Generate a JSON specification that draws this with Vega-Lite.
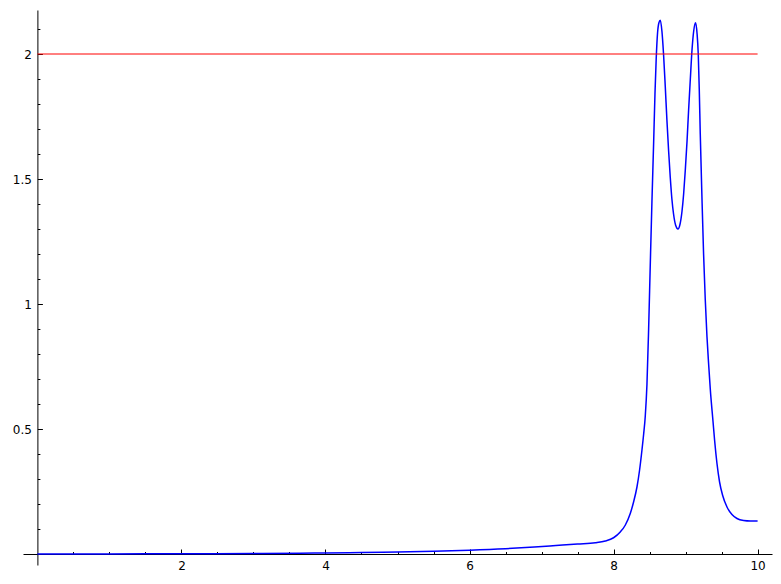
{
  "$schema": "https://vega.github.io/schema/vega-lite/v6.json",
  "width": 749,
  "height": 555,
  "autosize": {"type": "none"},
  "padding": {"left": 23, "top": 10, "right": 9, "bottom": 19},
  "background": "white",
  "config": {
    "view": {"stroke": null},
    "axis": {
      "domainColor": "black",
      "domainWidth": 1,
      "tickColor": "black",
      "tickWidth": 1,
      "labelColor": "black",
      "labelFont": "DejaVu Sans",
      "labelFontSize": 12,
      "labelOverlap": false,
      "labelBound": false,
      "labelFlush": false,
      "grid": false,
      "title": null
    }
  },
  "resolve": {"axis": {"x": "independent", "y": "independent"}},
  "layer": [
    {
      "data": {"values": [
        {"x": 0, "y": 0},
        {"x": 1, "y": 0.0003},
        {"x": 2, "y": 0.001},
        {"x": 3, "y": 0.002},
        {"x": 3.65, "y": 0.003},
        {"x": 4, "y": 0.004},
        {"x": 4.5, "y": 0.006},
        {"x": 5, "y": 0.008},
        {"x": 5.5, "y": 0.011},
        {"x": 6, "y": 0.015},
        {"x": 6.5, "y": 0.021},
        {"x": 6.9, "y": 0.028},
        {"x": 7.2, "y": 0.034},
        {"x": 7.5, "y": 0.04},
        {"x": 7.746, "y": 0.045},
        {"x": 7.885, "y": 0.052},
        {"x": 8.0, "y": 0.065},
        {"x": 8.093, "y": 0.088},
        {"x": 8.162, "y": 0.115},
        {"x": 8.232, "y": 0.162},
        {"x": 8.278, "y": 0.208},
        {"x": 8.325, "y": 0.268},
        {"x": 8.361, "y": 0.335},
        {"x": 8.394, "y": 0.415},
        {"x": 8.418, "y": 0.48},
        {"x": 8.44, "y": 0.55},
        {"x": 8.464, "y": 0.68},
        {"x": 8.487, "y": 0.9},
        {"x": 8.51, "y": 1.16},
        {"x": 8.533, "y": 1.41},
        {"x": 8.556, "y": 1.64},
        {"x": 8.575, "y": 1.84},
        {"x": 8.592, "y": 1.98},
        {"x": 8.611, "y": 2.085},
        {"x": 8.63, "y": 2.125},
        {"x": 8.649, "y": 2.135},
        {"x": 8.672, "y": 2.09},
        {"x": 8.694, "y": 2.0},
        {"x": 8.718, "y": 1.87},
        {"x": 8.741, "y": 1.735},
        {"x": 8.765, "y": 1.61},
        {"x": 8.787, "y": 1.508},
        {"x": 8.81, "y": 1.42},
        {"x": 8.833, "y": 1.36},
        {"x": 8.862, "y": 1.315},
        {"x": 8.894, "y": 1.3},
        {"x": 8.922, "y": 1.318},
        {"x": 8.95, "y": 1.37},
        {"x": 8.973, "y": 1.44},
        {"x": 8.996, "y": 1.535},
        {"x": 9.02, "y": 1.65},
        {"x": 9.042, "y": 1.775},
        {"x": 9.066, "y": 1.9},
        {"x": 9.089, "y": 2.015},
        {"x": 9.112, "y": 2.09},
        {"x": 9.139, "y": 2.125},
        {"x": 9.16, "y": 2.08},
        {"x": 9.176, "y": 2.0},
        {"x": 9.19, "y": 1.86},
        {"x": 9.204, "y": 1.68},
        {"x": 9.227, "y": 1.43},
        {"x": 9.25, "y": 1.2},
        {"x": 9.273, "y": 1.02},
        {"x": 9.297, "y": 0.87},
        {"x": 9.32, "y": 0.76},
        {"x": 9.343, "y": 0.66},
        {"x": 9.381, "y": 0.53},
        {"x": 9.403, "y": 0.455},
        {"x": 9.436, "y": 0.362},
        {"x": 9.472, "y": 0.288},
        {"x": 9.514, "y": 0.235},
        {"x": 9.575, "y": 0.188},
        {"x": 9.644, "y": 0.158},
        {"x": 9.714, "y": 0.142},
        {"x": 9.806, "y": 0.134},
        {"x": 9.9, "y": 0.132},
        {"x": 10, "y": 0.132}
      ]},
      "mark": {"type": "line", "color": "#0000ff", "strokeWidth": 1.5, "interpolate": "monotone"},
      "encoding": {
        "x": {
          "field": "x", "type": "quantitative",
          "scale": {"domain": [-0.2, 10.2], "nice": false, "zero": false},
          "axis": {
            "orient": "bottom",
            "offset": -11,
            "values": [2, 4, 6, 8, 10],
            "format": "d",
            "tickSize": -5,
            "labelPadding": 11
          }
        },
        "y": {
          "field": "y", "type": "quantitative",
          "scale": {"domain": [-0.044, 2.176], "nice": false, "zero": false},
          "axis": {
            "orient": "left",
            "offset": -14.4,
            "values": [0.5, 1, 1.5, 2],
            "format": "~g",
            "tickSize": -5,
            "labelPadding": 11
          }
        }
      }
    },
    {
      "data": {"values": [{"x": 0, "x2": 10, "y": 2}]},
      "mark": {"type": "rule", "color": "#ff0000", "strokeWidth": 1},
      "encoding": {
        "x": {
          "field": "x", "type": "quantitative",
          "axis": {
            "orient": "bottom",
            "offset": -11,
            "domain": false,
            "labels": false,
            "values": [0.5, 1, 1.5, 2.5, 3, 3.5, 4.5, 5, 5.5, 6.5, 7, 7.5, 8.5, 9, 9.5],
            "tickSize": -2.5
          }
        },
        "x2": {"field": "x2"},
        "y": {
          "field": "y", "type": "quantitative",
          "axis": {
            "orient": "left",
            "offset": -14.4,
            "domain": false,
            "labels": false,
            "values": [0.1, 0.2, 0.3, 0.4, 0.6, 0.7, 0.8, 0.9, 1.1, 1.2, 1.3, 1.4, 1.6, 1.7, 1.8, 1.9, 2.1],
            "tickSize": -2.5
          }
        }
      }
    }
  ]
}
